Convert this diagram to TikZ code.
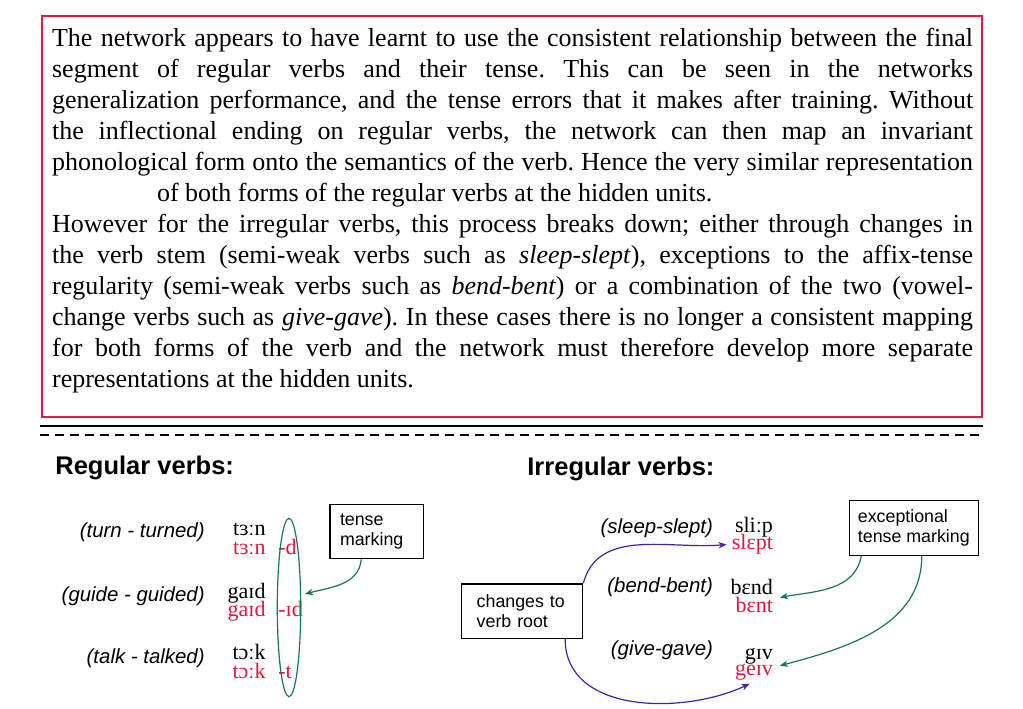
\documentclass[tikz,border=0pt]{standalone}
\usepackage{fontspec}
\setmainfont{Liberation Serif}
\setsansfont{Liberation Sans}
\usepackage{xcolor}
\definecolor{frameRed}{HTML}{E3173F}
\definecolor{pastRed}{HTML}{E3173F}
\definecolor{markTeal}{HTML}{187363}
\definecolor{rootViolet}{HTML}{4A1F9E}
\usepackage{tikz}
\usetikzlibrary{positioning,calc,arrows.meta,shapes.geometric}
\tikzset{%
  mainText/.style={%
    anchor=base west,
    inner sep=0pt,
    text width=460.5pt,
    align=justify,
    font=\fontsize{13}{15.5}\selectfont
  },
  headText/.style={%
    anchor=base west,
    inner sep=0pt,
    font=\sffamily\bfseries\fontsize{12.75}{15}\selectfont
  },
  verbLabel/.style={%
    anchor=base east,
    inner sep=0pt,
    font=\sffamily\itshape\fontsize{10.2}{12}\selectfont
  },
  phonForm/.style={%
    anchor=base east,
    inner sep=0pt,
    font=\fontsize{11}{13}\selectfont
  },
  phonPast/.style={%
    phonForm,
    text=pastRed
  },
  noteBox/.style={%
    rectangle,
    draw,
    line width=0.6pt,
    inner xsep=5pt,
    inner ysep=0pt,
    minimum height=27.3pt,
    align=left,
    font=\sffamily\fontsize{8.9}{10.3}\selectfont
  },
  markArrow/.style={%
    -{Stealth[length=4pt,width=3.2pt,inset=1.2pt]},
    line width=0.6pt,
    color=markTeal
  },
  rootArrow/.style={%
    markArrow,
    color=rootViolet
  }
}

\begin{document}
\begin{tikzpicture}[x=0.5pt,y=0.5pt]
  \useasboundingbox (0,0) rectangle (1023,708);

  % summary
  \draw[frameRed, line width=1pt] (41.5,691.5) rectangle (982,291.5);
  \node[mainText] (summary) at (51.7,661.5) {\frenchspacing\tolerance=10000\hyphenpenalty=10000
    The network appears to have learnt to use the consistent relationship between the final\linebreak
    segment of regular verbs and their tense. This can be seen in the networks\linebreak
    generalization performance, and the tense errors that it makes after training. Without\linebreak
    the inflectional ending on regular verbs, the network can then map an invariant\linebreak
    phonological form onto the semantics of the verb. Hence the very similar representation\linebreak
    \hspace*{52.5pt}of both forms of the regular verbs at the hidden units.\newline
    However for the irregular verbs, this process breaks down; either through changes in\linebreak
    the verb stem (semi-weak verbs such as \textit{sleep-slept}), exceptions to the affix-tense\linebreak
    regularity (semi-weak verbs such as \textit{bend-bent}) or a combination of the two (vowel-\linebreak
    change verbs such as \textit{give-gave}). In these cases there is no longer a consistent mapping\linebreak
    for both forms of the verb and the network must therefore develop more separate\linebreak
    representations at the hidden units.};

  \draw[line width=1pt] (40,282) -- (983,282);
  \draw[line width=1pt, dash pattern=on 4.5pt off 3pt] (40,273.5) -- (983,273.5);

  % regular verbs
  \node[headText] (regHead) at (55,234) {Regular verbs:};
  \node[verbLabel] (turnLbl) at (205,171) {(turn - turned)};
  \node[phonForm] (turnPres) at (266,173) {tɜːn};
  \node[phonPast] (turnPast) at (266,154) {tɜːn};
  \node[phonPast, anchor=base west] (turnEnd) at (278,154) {-d};
  \node[verbLabel] (guideLbl) at (205,107) {(guide - guided)};
  \node[phonForm] (guidePres) at (266,110) {gaɪd};
  \node[phonPast] (guidePast) at (266,92) {gaɪd};
  \node[phonPast, anchor=base west] (guideEnd) at (278,92) {-ɪd};
  \node[verbLabel] (talkLbl) at (205,44.5) {(talk - talked)};
  \node[phonForm] (talkPres) at (266,49) {tɔːk};
  \node[phonPast] (talkPast) at (266,30) {tɔːk};
  \node[phonPast, anchor=base west] (talkEnd) at (278,30) {-t};
  \node[ellipse, draw=markTeal, line width=0.6pt, inner sep=0pt,
        minimum width=11.7pt, minimum height=89.2pt] (ending) at (289,100.5) {};
  \node[noteBox, text width=36.7pt] (tenseBox) at (376.7,176.5) {tense\\marking};
  \coordinate (endingTip) at (305,114);
  \draw[markArrow] (tenseBox.-119) to[out=-95,in=15] (endingTip);

  % irregular verbs
  \node[headText] (irrHead) at (527,233) {Irregular verbs:};
  \node[verbLabel] (sleepLbl) at (713.3,174.7) {(sleep-slept)};
  \node[phonForm] (sleepPres) at (773.3,175.3) {sliːp};
  \node[phonPast] (sleepPast) at (773.3,158.2) {slɛpt};
  \node[verbLabel] (bendLbl) at (713.3,115.3) {(bend-bent)};
  \node[phonForm] (bendPres) at (773.3,114) {bɛnd};
  \node[phonPast] (bendPast) at (773.3,95.2) {bɛnt};
  \node[verbLabel] (giveLbl) at (713.3,53) {(give-gave)};
  \node[phonForm] (givePres) at (773.3,49) {gɪv};
  \node[phonPast] (givePast) at (773.3,32.5) {geɪv};

  \node[noteBox, inner xsep=7.5pt, text width=45.5pt] (rootBox) at (522.2,96.8) {changes to\\verb root};
  \node[noteBox, inner xsep=4.25pt] (excBox) at (913.8,180.2) {exceptional\\tense marking};

  \draw[rootArrow] (rootBox.north east) to[out=75,in=185] ([xshift=-2.5pt]sleepPast.west);
  \draw[rootArrow] (rootBox.-33) to[out=-90,in=205] ([xshift=7.5pt,yshift=-1.6pt]givePast.south west);
  \draw[markArrow] (excBox.-152) to[out=-100,in=10] ([xshift=3.3pt,yshift=-1.4pt]bendPres.south east);
  \draw[markArrow] (excBox.-74) to[out=-90,in=15] ([xshift=3.3pt,yshift=-0.8pt]givePres.south east);
\end{tikzpicture}
\end{document}
